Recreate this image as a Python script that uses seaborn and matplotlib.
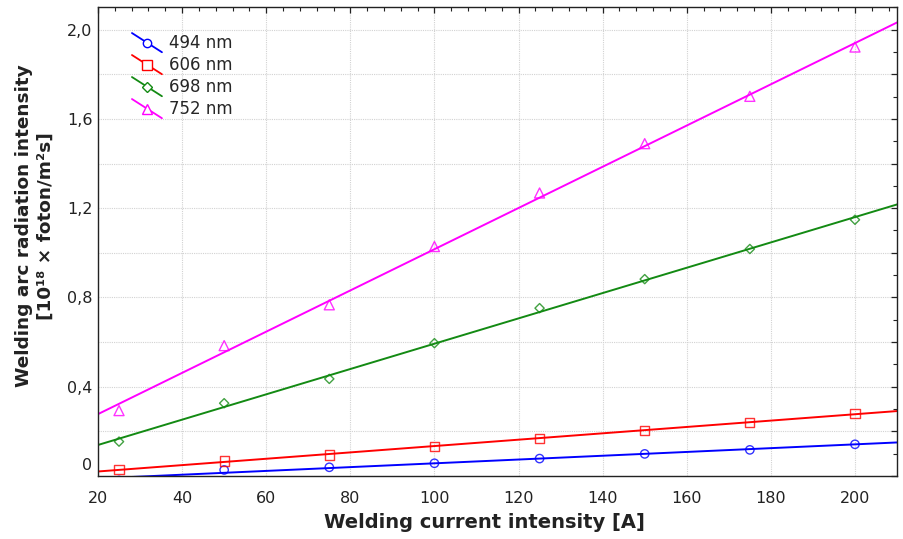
import numpy as np
import pandas as pd
import seaborn as sns
import matplotlib
matplotlib.use('Agg')
import matplotlib.pyplot as plt
from matplotlib.lines import Line2D
from matplotlib.legend_handler import HandlerBase
from matplotlib.ticker import MultipleLocator, FuncFormatter
from matplotlib.transforms import offset_copy

# welding current [A] and radiation intensity [10^18 foton/m2s] per wavelength
current = [25, 50, 75, 100, 125, 150, 175, 200]
i_494 = [-0.02, 0.027, 0.039, 0.057, 0.078, 0.099, 0.117, 0.142]
i_606 = [0.030, 0.067, 0.094, 0.131, 0.169, 0.203, 0.241, 0.281]
i_698 = [0.154, 0.326, 0.435, 0.595, 0.752, 0.882, 1.017, 1.148]
i_752 = [0.293, 0.584, 0.767, 1.028, 1.268, 1.489, 1.701, 1.922]
wavelengths = ['494 nm', '606 nm', '698 nm', '752 nm']

series = [i_494, i_606, i_698, i_752]
colors = ['#0000ff', '#ff0000', '#138a13', '#ff00ff']
markers = ['o', 's', 'D', '^']
sizes = [36, 44, 22, 52]

sns.set_theme(style='white')
plt.rcParams['font.family'] = ['DejaVu Sans']


class DiagonalHandler(HandlerBase):
    # legend key drawn as a slanted line with the marker in the middle
    def create_artists(self, legend, orig_handle, xdescent, ydescent,
                       width, height, fontsize, trans):
        x0, x1 = -xdescent, width - xdescent
        yc = height / 2 - ydescent
        dy = 0.32 * width
        line = Line2D([x0, x1], [yc + dy, yc - dy], color=orig_handle.get_color(), lw=1.3)
        mk = Line2D([(x0 + x1) / 2], [yc], marker=orig_handle.get_marker(),
                    markersize=orig_handle.get_markersize(),
                    markerfacecolor='white', markeredgecolor=orig_handle.get_color(),
                    markeredgewidth=1.0, linestyle='none')
        line.set_transform(trans)
        mk.set_transform(trans)
        return [line, mk]


fig = plt.figure(figsize=(9.04, 5.39), dpi=100)
ax = fig.add_axes([0.1084, 0.1169, 0.8839, 0.8696])
ax.set_xlim(20, 210)

for vals, c, m, s in zip(series, colors, markers, sizes):
    sns.regplot(x=current, y=vals, ax=ax, ci=None, truncate=False, marker=m, color=c,
                scatter_kws=dict(facecolors='none', edgecolors=c, s=s, linewidths=1.0, zorder=3),
                line_kws=dict(lw=1.4, zorder=2))

ax.set_ylim(0, 2.1)
ax.xaxis.set_major_locator(MultipleLocator(20))
ax.xaxis.set_minor_locator(MultipleLocator(4))
ax.yaxis.set_major_locator(MultipleLocator(0.2))
ax.yaxis.set_minor_locator(MultipleLocator(0.1))


def ylab(v, pos):
    if abs(v) < 1e-9:
        return '0'
    if abs(v / 0.4 - round(v / 0.4)) < 1e-6:
        return f'{v:.1f}'.replace('.', ',')
    return ''


ax.yaxis.set_major_formatter(FuncFormatter(ylab))
ax.tick_params(which='both', direction='in', top=True, right=True, colors='#222222',
               labelsize=11.5)
ax.tick_params(which='major', length=4, width=0.9)
ax.tick_params(which='minor', length=3, width=0.8)
ax.tick_params(axis='x', pad=11)
ax.tick_params(axis='y', pad=4)

ax.grid(True, which='major', color='#d2d2d2', linestyle=(0, (1, 1)), lw=0.8)
for sp in ax.spines.values():
    sp.set_color('#222222')
    sp.set_linewidth(1.0)

ax.set_xlabel('Welding current intensity [A]', fontsize=14, fontweight='bold', color='#222222')
ax.xaxis.set_label_coords(0.484, -0.079)
ax.set_ylabel('Welding arc radiation intensity\n[10¹⁸ × foton/m²s]', fontsize=13.3,
              fontweight='bold', color='#222222', linespacing=1.25)
ax.yaxis.set_label_coords(-0.054, 0.533)

handles = [Line2D([], [], color=c, marker=m, markersize=ms)
           for c, m, ms in zip(colors, markers, [6, 6.5, 5, 7])]
ax.legend(handles, wavelengths, handler_map={Line2D: DiagonalHandler()},
          loc='upper left', bbox_to_anchor=(0.0425, 0.942), frameon=False,
          fontsize=12, borderpad=0, borderaxespad=0, handlelength=1.8,
          handletextpad=0.45, labelspacing=0.24)

fig.canvas.draw()
for tick in ax.yaxis.get_major_ticks():
    if abs(tick.get_loc()) < 1e-9:
        tick.label1.set_transform(offset_copy(tick.label1.get_transform(), fig=fig, y=12, units='dots'))

fig.savefig('out.png', dpi=100)
